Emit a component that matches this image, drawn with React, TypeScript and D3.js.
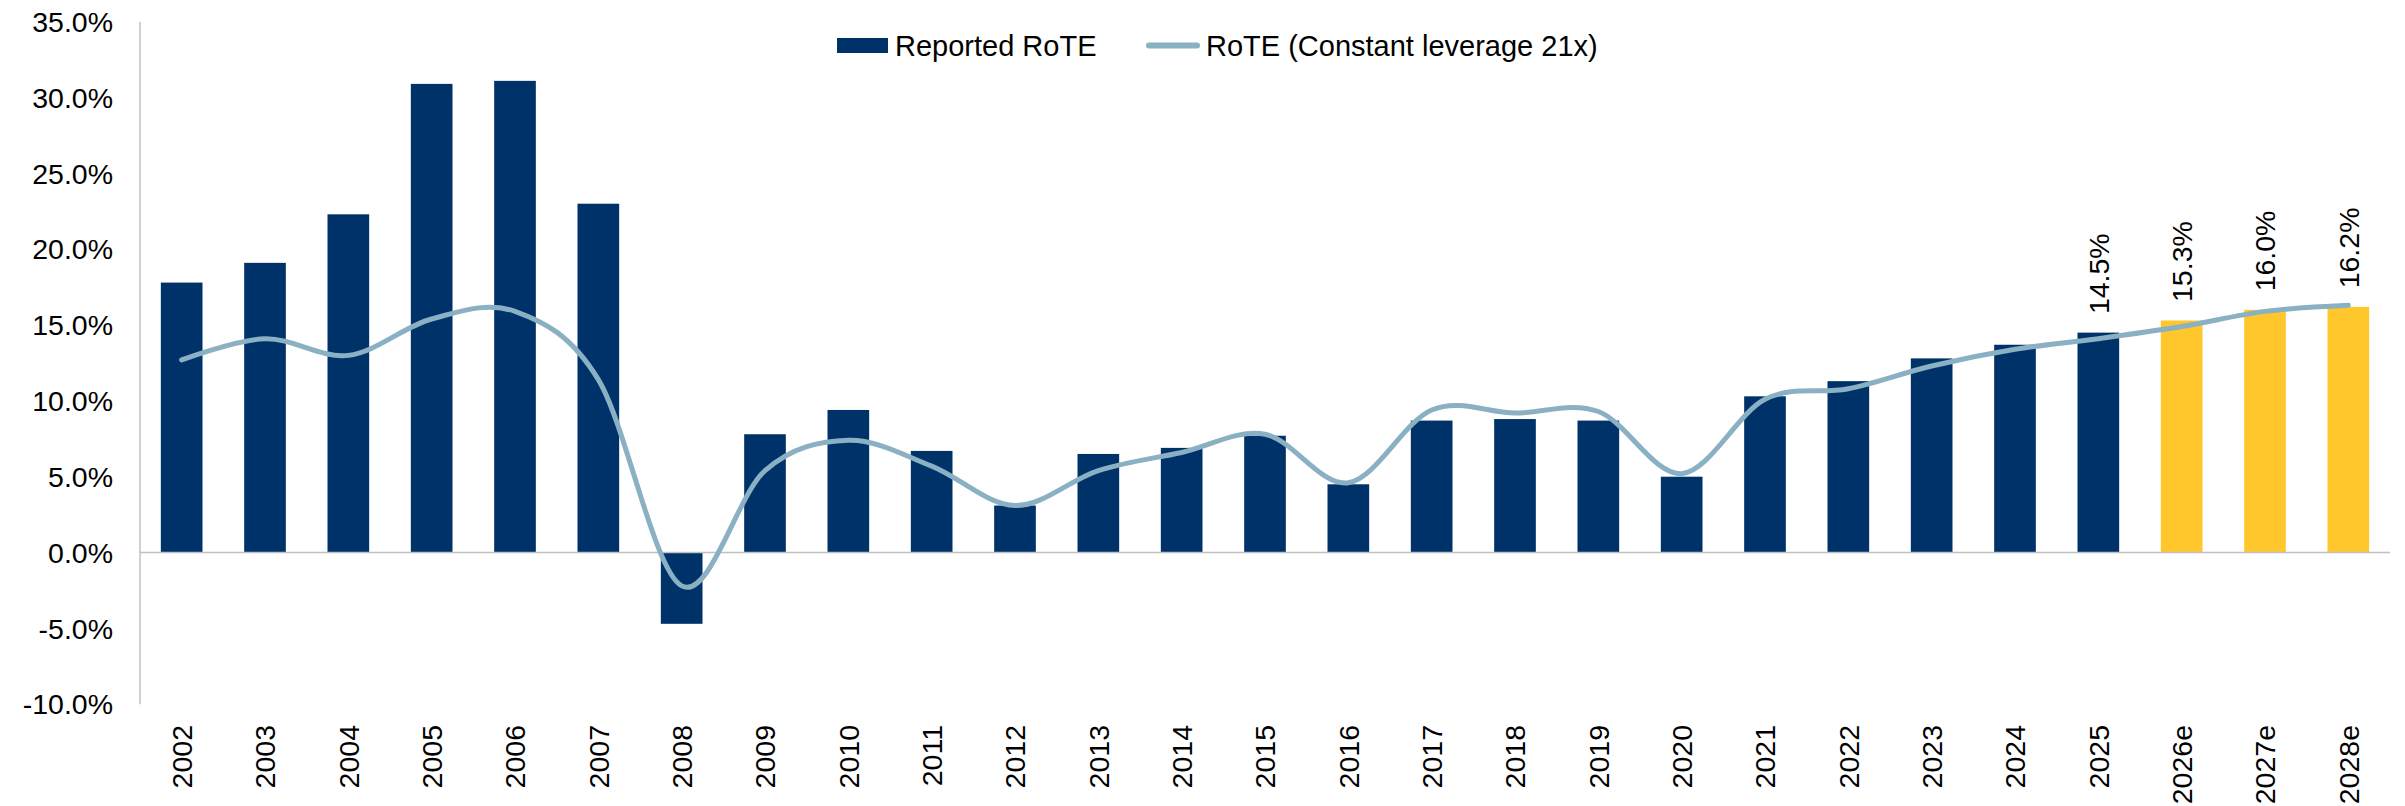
import React from "react";
import * as d3 from "d3";

const categories = ["2002","2003","2004","2005","2006","2007","2008","2009","2010","2011","2012","2013","2014","2015","2016","2017","2018","2019","2020","2021","2022","2023","2024","2025","2026e","2027e","2028e"];
const reportedRoTE = [17.8,19.1,22.3,30.9,31.1,23.0,-4.7,7.8,9.4,6.7,3.1,6.5,6.9,7.7,4.5,8.7,8.8,8.7,5.0,10.3,11.3,12.8,13.7,14.5,15.3,16.0,16.2];
const constantLeverageRoTE = [12.7,14.1,13.0,15.4,15.9,11.4,-2.2,5.4,7.4,5.7,3.1,5.4,6.6,7.8,4.6,9.4,9.2,9.3,5.2,10.1,10.8,12.3,13.4,14.1,14.9,15.9,16.3];
const forecastCategories = ["2026e","2027e","2028e"];
const labelledCategories = ["2025","2026e","2027e","2028e"];
const yTicks = [-10,-5,0,5,10,15,20,25,30,35];
const seriesNames = ["Reported RoTE","RoTE (Constant leverage 21x)"];

const W = 2405, H = 806;
const FONT = "'Liberation Sans', Arial, Helvetica, sans-serif";
const NAVY = "#00326A";
const YELLOW = "#FFC72C";
const LINE = "#8AB0C3";
const AXIS = "#C0C0C0";

export default function App() {
  const x = d3.scaleBand<string>().domain(categories).range([140, 2390]).paddingInner(0.5).paddingOuter(0.25);
  const y = d3.scaleLinear().domain([-10, 35]).range([704.2, 21.7]);
  const cx = (c: string) => (x(c) as number) + x.bandwidth() / 2;
  const lineGen = d3.line<number>()
    .x((_, i) => cx(categories[i]))
    .y((d) => y(d))
    .curve(d3.curveCardinal.tension(0));
  const fmt = (v: number) => v.toFixed(1) + "%";

  return (
    <svg width={W} height={H} style={{ position: "absolute", left: 0, top: 0, background: "#fff" }} fontFamily={FONT}>
      {/* y axis */}
      <line x1={140} x2={140} y1={y(35)} y2={y(-10)} stroke={AXIS} strokeWidth={1.5} />
      {yTicks.map((t) => (
        <text key={t} x={113} y={y(t)} dy="0.36em" textAnchor="end" fontSize={28.5} fill="#000">{fmt(t)}</text>
      ))}
      {/* bars */}
      {categories.map((c, i) => {
        const v = reportedRoTE[i];
        const top = Math.min(y(v), y(0));
        const h = Math.abs(y(v) - y(0));
        return (
          <rect key={c} x={x(c)} y={top} width={x.bandwidth()} height={h}
            fill={forecastCategories.includes(c) ? YELLOW : NAVY} />
        );
      })}
      {/* zero line */}
      <line x1={140} x2={2390} y1={y(0)} y2={y(0)} stroke={AXIS} strokeWidth={1.5} />
      {/* line series */}
      <path d={lineGen(constantLeverageRoTE) || ""} fill="none" stroke={LINE} strokeWidth={5} strokeLinecap="round" strokeLinejoin="round" />
      {/* data labels */}
      {categories.map((c, i) => labelledCategories.includes(c) ? (
        <text key={"l" + c} transform={`translate(${cx(c)},${y(reportedRoTE[i]) - 18.5}) rotate(-90)`} dy="0.36em" textAnchor="start" fontSize={28.5} fill="#000">{fmt(reportedRoTE[i])}</text>
      ) : null)}
      {/* x labels */}
      {categories.map((c) => (
        <text key={"x" + c} transform={`translate(${cx(c)},725) rotate(-90)`} dy="0.36em" textAnchor="end" fontSize={28.5} fill="#000">{c}</text>
      ))}
      {/* legend */}
      <rect x={837} y={38} width={51} height={15} fill={NAVY} />
      <text x={895} y={46} dy="0.36em" fontSize={29} fill="#000">{seriesNames[0]}</text>
      <line x1={1149} x2={1197} y1={45.5} y2={45.5} stroke={LINE} strokeWidth={6} strokeLinecap="round" />
      <text x={1206} y={46} dy="0.36em" fontSize={29} fill="#000">{seriesNames[1]}</text>
    </svg>
  );
}
